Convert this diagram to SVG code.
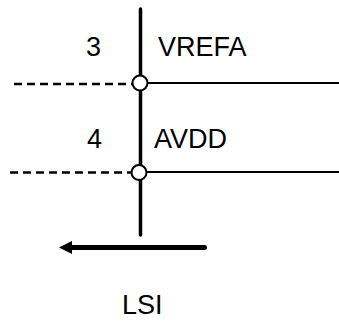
<svg xmlns="http://www.w3.org/2000/svg" width="339" height="323" viewBox="0 0 339 323">
<style>
text{font-family:"Liberation Sans",Arial,sans-serif;font-size:27px;fill:#000}
.thick{stroke:#000;stroke-width:3.500;stroke-linecap:round;fill:none}
.thin{stroke:#000;stroke-width:2;fill:none}
.dash{stroke:#000;stroke-width:2.500;stroke-dasharray:8 5;fill:none}
.pin{fill:#fff;stroke:#000;stroke-width:2}
</style>
<rect width="339" height="323" fill="#fff"/>
<g id="connectors">
<path class="thick" d="M140.500 9V235"/>
<path class="thin" d="M148 83H339"/>
<path class="thin" d="M147 172H339"/>
<path class="dash" d="M14 84H132"/>
<path class="dash" d="M10 172.500H131"/>
<path d="M70 247.500H204.500" stroke="#000" stroke-width="5" stroke-linecap="round" fill="none"/>
<path d="M59 247.500L72 241V254Z" fill="#000"/>
</g>
<g id="pin3"><circle class="pin" cx="140" cy="83" r="7.500"/></g>
<g id="pin4"><circle class="pin" cx="139" cy="172.500" r="7.500"/></g>
<g id="label-3"><text x="86" y="56">3</text></g>
<g id="label-vrefa"><text x="158" y="56">VREFA</text></g>
<g id="label-4"><text x="87" y="148">4</text></g>
<g id="label-avdd"><text x="154" y="148">AVDD</text></g>
<g id="label-lsi"><text x="122" y="314">LSI</text></g>
</svg>
